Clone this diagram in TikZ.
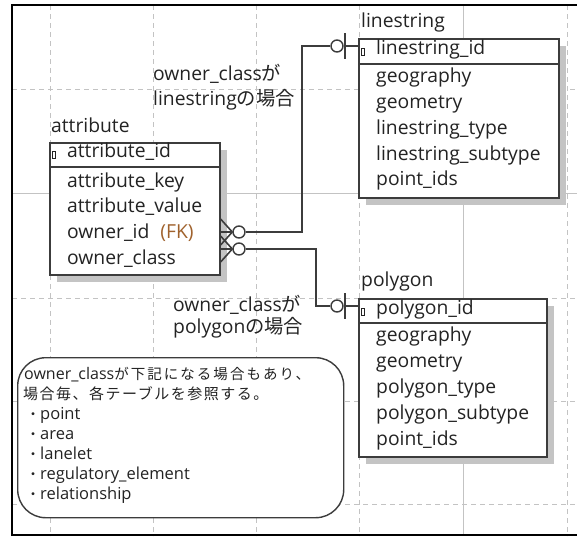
\documentclass[tikz,border=0pt]{standalone}
\usepackage{fontspec}
\setmainfont{Open Sans}
\newfontfamily\jp{Noto Sans CJK JP}
\newfontfamily\jpa[LetterSpace=14]{Noto Sans CJK JP}
\newfontfamily\jpb[LetterSpace=10]{Noto Sans CJK JP}
\definecolor{gridgray}{RGB}{195,195,195}
\definecolor{shadowgray}{RGB}{196,196,196}
\definecolor{boxline}{RGB}{60,60,60}
\definecolor{txt}{RGB}{35,35,35}
\definecolor{fkc}{RGB}{160,98,45}
\begin{document}
\begin{tikzpicture}[x=1pt,y=-1pt,
  gridd/.style={draw=gridgray, line width=0.8pt, dash pattern=on 5pt off 4pt},
  grids/.style={draw=gridgray, line width=0.8pt},
  entbox/.style={draw=boxline, line width=1.6pt, fill=white, anchor=north west, inner sep=0pt},
  sepline/.style={draw=boxline, line width=1.6pt},
  title/.style={anchor=mid west, inner sep=0pt, text=txt, font=\fontsize{19.3}{22}\selectfont},
  row/.style={anchor=mid west, inner sep=0pt, text=txt, font=\fontsize{19.3}{22}\selectfont},
  lbl/.style={anchor=mid west, inner sep=0pt, text=txt, font=\fontsize{19.3}{22}\selectfont},
  conn/.style={draw=boxline, line width=1.6pt},
  zcirc/.style={circle, draw=boxline, line width=1.4pt, fill=white, minimum size=12pt, inner sep=0pt},
  pkicon/.style={draw=txt, line width=1pt, minimum width=3pt, minimum height=7pt, inner sep=0pt},
  notebox/.style={draw=boxline, line width=1.4pt, fill=white, rounded corners=28pt, anchor=north west, inner sep=0pt},
  notetxt/.style={anchor=mid west, inner sep=0pt, text=txt},
  bul/.style={anchor=mid west, inner sep=0pt, text=txt, font=\fontsize{16.5}{18}\selectfont}
]
\useasboundingbox (0,0) rectangle (577,536);
% grid
\begin{scope}
  \clip (12,5) rectangle (577,536);
  \foreach \gx in {50,153,256,359,567} \draw[gridd] (\gx,5) -- (\gx,536);
  \draw[grids] (463,5) -- (463,536);
  \foreach \gy in {89,298,401,504} \draw[gridd] (12,\gy) -- (577,\gy);
  \draw[grids] (12,193) -- (577,193);
\end{scope}
% frame
\draw[black, line width=2pt] (12,536) -- (12,5) -- (577,5);
\draw[black, line width=2pt] (12,535) -- (577,535);

% attribute entity
\fill[shadowgray] (57,150) rectangle (227,282);
\node[entbox, minimum width=170pt, minimum height=132pt] (attr) at (49,142) {};
\draw[sepline] (attr.north west) ++(0,25) -- ++(170,0);
\node[title] (attrT) at (51,130) {attribute};
\node[pkicon] (attrK) at (54,155) {};
\node[row] (attr1) at (67,155) {attribute\_id};
\node[row] (attr2) at (67,185) {attribute\_key};
\node[row] (attr3) at (67,210) {attribute\_value};
\node[row] (attr4) at (67,236) {owner\_id\hspace{11pt}\textcolor{fkc}{(FK)}};
\node[row] (attr5) at (67,262) {owner\_class};

% linestring entity
\fill[shadowgray] (366,46) rectangle (566,205);
\node[entbox, minimum width=200pt, minimum height=159pt] (ls) at (358,38) {};
\draw[sepline] (ls.north west) ++(0,26) -- ++(200,0);
\node[title] (lsT) at (361,25) {linestring};
\node[pkicon] (lsK) at (363,52) {};
\node[row] (ls1) at (376,52) {linestring\_id};
\node[row] (ls2) at (376,80) {geography};
\node[row] (ls3) at (376,106) {geometry};
\node[row] (ls4) at (376,132) {linestring\_type};
\node[row] (ls5) at (376,158) {linestring\_subtype};
\node[row] (ls6) at (376,183) {point\_ids};

% polygon entity
\fill[shadowgray] (366,306) rectangle (554,464);
\node[entbox, minimum width=188pt, minimum height=158pt] (pg) at (358,298) {};
\draw[sepline] (pg.north west) ++(0,25) -- ++(188,0);
\node[title] (pgT) at (361,284) {polygon};
\node[pkicon] (pgK) at (363,312) {};
\node[row] (pg1) at (376,312) {polygon\_id};
\node[row] (pg2) at (376,339) {geography};
\node[row] (pg3) at (376,365) {geometry};
\node[row] (pg4) at (376,391) {polygon\_type};
\node[row] (pg5) at (376,417) {polygon\_subtype};
\node[row] (pg6) at (376,443) {point\_ids};

% connectors
\node[zcirc] (c1) at (239,232) {};
\node[zcirc] (c2) at (239,249) {};
\node[zcirc] (c3) at (337,46) {};
\node[zcirc] (c4) at (337,306) {};
\coordinate (j1) at (302,46);
\coordinate (j2) at (316,306);
\draw[conn] (c1.east) -| (j1) -- (c3.west);
\draw[conn] (c2.east) -| (j2) -- (c4.west);
\draw[conn] (c3.east) -- (c3 -| ls.west);
\draw[conn] (c4.east) -- (c4 -| pg.west);
\draw[conn] (c3) ++(8,-13) -- ++(0,26);
\draw[conn] (c4) ++(8,-13) -- ++(0,26);
% crow's feet
\draw[conn] (c1 -| attr.east) -- (c1.west);
\draw[conn] (c1 -| attr.east) ++(0,-13) -- (c1.west);
\draw[conn] (c1 -| attr.east) ++(0,13) -- (c1.west);
\draw[conn] (c2 -| attr.east) -- (c2.west);
\draw[conn] (c2 -| attr.east) ++(0,-13) -- (c2.west);
\draw[conn] (c2 -| attr.east) ++(0,13) -- (c2.west);

% relation labels
\node[lbl] (l1a) at (153,78) {owner\_class{\jp が}};
\node[lbl] (l1b) at (153,103) {linestring{\jp の場合}};
\node[lbl] (l2a) at (173,309) {owner\_class{\jp が}};
\node[lbl] (l2b) at (173,331) {polygon{\jp の場合}};

% note
\node[notebox, minimum width=326pt, minimum height=160pt] (note) at (17,357) {};
\node[notetxt] (n1) at (24,377) {\fontsize{16}{19}\selectfont owner\_class{\jpa\fontsize{14.5}{16}\selectfont が下記になる場合もあり、}};
\node[notetxt] (n2) at (23,397) {\jpb\fontsize{15}{17}\selectfont 場合毎、各テーブルを参照する。};
\node[bul] (b1) at (26,417) {{\jp\fontsize{14}{16}\selectfont ・}point};
\node[bul] (b2) at (26,437) {{\jp\fontsize{14}{16}\selectfont ・}area};
\node[bul] (b3) at (26,457) {{\jp\fontsize{14}{16}\selectfont ・}lanelet};
\node[bul] (b4) at (26,477) {{\jp\fontsize{14}{16}\selectfont ・}regulatory\_element};
\node[bul] (b5) at (26,497) {{\jp\fontsize{14}{16}\selectfont ・}relationship};
\end{tikzpicture}
\end{document}
